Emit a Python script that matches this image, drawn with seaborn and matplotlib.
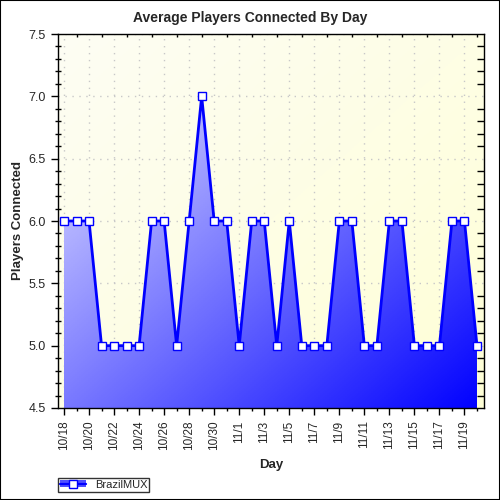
import numpy as np
import pandas as pd
import matplotlib
matplotlib.use("Agg")
import matplotlib.pyplot as plt
import seaborn as sns
from matplotlib.lines import Line2D
from matplotlib.patches import Rectangle
from matplotlib.colors import LinearSegmentedColormap
from matplotlib.ticker import MultipleLocator, FixedLocator

days = ["10/18", "10/19", "10/20", "10/21", "10/22", "10/23", "10/24", "10/25",
        "10/26", "10/27", "10/28", "10/29", "10/30", "10/31", "11/1", "11/2",
        "11/3", "11/4", "11/5", "11/6", "11/7", "11/8", "11/9", "11/10",
        "11/11", "11/12", "11/13", "11/14", "11/15", "11/16", "11/17", "11/18",
        "11/19", "11/20"]
players = [6, 6, 6, 5, 5, 5, 5, 6, 6, 5, 6, 7, 6, 6, 5, 6, 6, 5, 6, 5, 5, 5,
           6, 6, 5, 5, 6, 6, 5, 5, 5, 6, 6, 5]
series_name = "BrazilMUX"

df = pd.DataFrame({"idx": np.arange(len(days)), "players": players})

sns.set_theme(style="white")
plt.rcParams["font.family"] = ["Liberation Sans", "DejaVu Sans"]

fig = plt.figure(figsize=(5, 5), dpi=100)
ax = fig.add_axes([58 / 500, 1 - 408 / 500, (484 - 58) / 500, (408 - 34) / 500])

ymin, ymax = 4.5, 7.5
xmin, xmax = -0.48, len(days) - 1 + 0.56
ax.set_xlim(xmin, xmax)
ax.set_ylim(ymin, ymax)

# background gradient (light yellow)
bg = LinearSegmentedColormap.from_list("bg", ["#FDFDF4", "#FFFFD6"])
gx, gy = np.meshgrid(np.linspace(0, 1, 200), np.linspace(0, 1, 200))
ax.imshow((gx + gy) / 2, cmap=bg, extent=[0, 1, 0, 1], transform=ax.transAxes,
          aspect="auto", zorder=0, origin="upper")

# grid
for v in np.arange(5.0, 7.51, 0.5):
    ax.axhline(v, color="#C8C8C8", lw=1, ls=(0, (1, 4)), zorder=1)
for i in range(0, len(days), 2):
    ax.axvline(i, color="#C8C8C8", lw=1, ls=(0, (1, 4)), zorder=1)

# gradient area fill under line
poly = ax.fill_between(df["idx"], ymin, df["players"], color="none", lw=0, zorder=2)
fg = LinearSegmentedColormap.from_list("fg", ["#F4F4FF", "#0000FF"])
im = ax.imshow((gx + gy) / 2, cmap=fg, extent=[xmin, xmax, ymin, ymax],
               aspect="auto", zorder=2, origin="upper")
im.set_clip_path(poly.get_paths()[0], transform=ax.transData)

sns.lineplot(data=df, x="idx", y="players", ax=ax, color="#0000FF", lw=2.0,
             marker="s", markersize=6, markerfacecolor="white",
             markeredgecolor="#0000FF", markeredgewidth=1.0, zorder=3,
             clip_on=False)

# ticks
ax.xaxis.set_major_locator(FixedLocator(list(range(0, len(days), 2))))
ax.set_xticklabels(days[::2], rotation=90, fontsize=8.5)
ax.xaxis.set_minor_locator(MultipleLocator(1))
ax.yaxis.set_major_locator(MultipleLocator(0.5))
ax.yaxis.set_minor_locator(MultipleLocator(0.1))
ax.set_yticklabels([f"{v:.1f}" for v in ax.get_yticks()], fontsize=9)
ax.tick_params(axis="x", which="major", direction="out", length=5, width=1,
               color="black", pad=4, bottom=True, top=False)
ax.tick_params(axis="x", which="minor", direction="out", length=2.5, width=1,
               color="black", bottom=True, top=True)
ax.tick_params(axis="y", which="major", direction="out", length=5, width=1,
               color="black", pad=4, left=True, right=False)
ax.tick_params(axis="y", which="minor", direction="inout", length=5, width=1,
               color="black", left=True, right=True)
for t in ax.xaxis.get_minor_ticks():
    t.tick2line.set_marker(3)
for t in ax.yaxis.get_minor_ticks():
    t.tick2line.set_marker(0)

for s in ax.spines.values():
    s.set_color("black")
    s.set_linewidth(1)
    s.set_visible(True)

ax.set_xlabel("Day", fontsize=9.5, fontweight="bold")
ax.xaxis.set_label_coords(0.5, (408 - 459) / 374)
ax.set_ylabel("Players Connected", fontsize=9.5, fontweight="bold")
ax.yaxis.set_label_coords((24 - 58) / 426, 0.5)
fig.text(0.5, 1 - 18 / 500, "Average Players Connected By Day", ha="center",
         va="center", fontsize=10, fontweight="bold")

# legend
handle = (Rectangle((0, 0), 1, 1, facecolor="#5050FF", edgecolor="none"),
          Line2D([], [], color="#0000FF", lw=1.6, marker="s", markersize=6,
                 markerfacecolor="white", markeredgecolor="#0000FF"))
leg = fig.legend([handle], [series_name], loc="lower left",
                 bbox_to_anchor=(58 / 500, 1 - 492 / 500), fontsize=8,
                 frameon=True, fancybox=False, edgecolor="black",
                 borderpad=0.2, handlelength=2.3, handleheight=0.6,
                 borderaxespad=0)
leg.get_frame().set_linewidth(1)

fig.patches.append(Rectangle((0, 0), 1, 1, transform=fig.transFigure,
                             fill=False, edgecolor="black", lw=1.5))

fig.savefig("out.png", dpi=100)
